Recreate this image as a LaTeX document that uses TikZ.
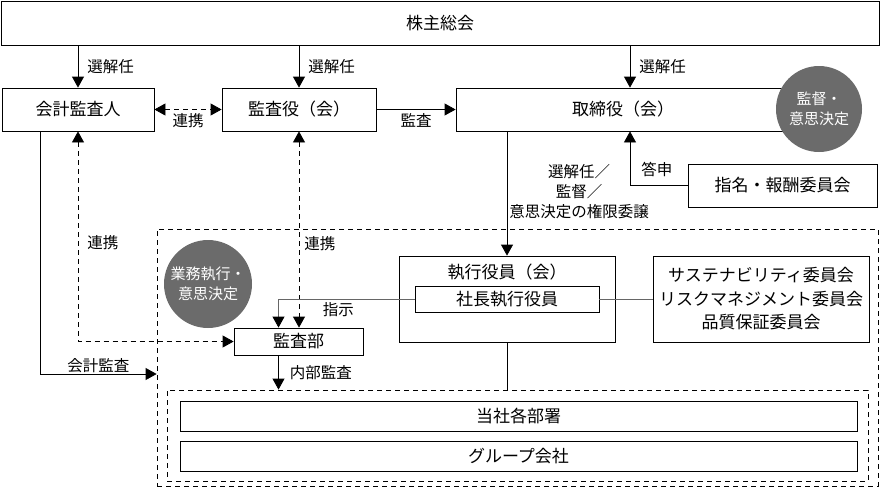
\documentclass[tikz,border=0pt]{standalone}
\usepackage{fontspec}
\setmainfont{Noto Sans CJK JP}
\usetikzlibrary{arrows.meta}

\begin{document}
\begin{tikzpicture}[x=1pt, y=-1pt, line width=0.8pt,
    box/.style={draw, rectangle, inner sep=0pt, font=\fontsize{17}{20}\selectfont},
    lbl/.style={inner sep=1pt, font=\fontsize{15.5}{20}\selectfont},
    badge/.style={circle, fill=black!58, text=white, inner sep=0pt, align=center, font=\fontsize{15}{20}\selectfont},
    region/.style={draw, rectangle, dash pattern=on 5pt off 4pt, inner sep=0pt},
    arr/.style={-{Triangle[length=11pt,width=12pt,color=black]}},
    darr/.style={{Triangle[length=11pt,width=12pt]}-{Triangle[length=11pt,width=12pt]}, dash pattern=on 5pt off 4pt},
    gline/.style={draw=black!60}]

    \useasboundingbox (0,0) rectangle (880,488);

    \node[box, minimum width=878pt, minimum height=44pt] (soukai) at (440,23) {株主総会};
    \node[box, minimum width=152pt, minimum height=43pt] (kaikei) at (78,109.5) {会計監査人};
    \node[box, minimum width=154pt, minimum height=43pt] (kansayaku) at (299,109.5) {監査役（会）};
    \node[box, minimum width=334pt, minimum height=43pt] (torishimari) at (623,109.5) {取締役（会）};
    \node[badge, minimum size=86pt] (kantoku) at (819,109) {監督・\\意思決定};
    \node[box, minimum width=189pt, minimum height=43pt] (shimei) at (782.5,185.5) {指名・報酬委員会};

    \node[region, minimum width=721pt, minimum height=257pt] (gyoumubu) at (517.5,357.5) {};
    \node[badge, minimum size=88pt] (gyoumu) at (208,284) {業務執行・\\意思決定};

    \node[box, minimum width=216pt, minimum height=86pt] (shikkou) at (507,299) {};
    \node[lbl, font=\fontsize{17}{20}\selectfont] (shikkoutitle) at (507,272) {執行役員（会）};
    \node[box, minimum width=184pt, minimum height=26pt] (shachou) at (507,299) {社長執行役員};
    \node[box, minimum width=216pt, minimum height=86pt, align=center, font=\fontsize{17}{23.5}\selectfont] (iinkai) at (761,299) {サステナビリティ委員会\\リスクマネジメント委員会\\品質保証委員会};
    \node[box, minimum width=129pt, minimum height=27pt] (kansabu) at (298.5,341.5) {監査部};

    \node[region, minimum width=701pt, minimum height=91pt] (busho) at (517.5,435.5) {};
    \node[box, minimum width=677pt, minimum height=30pt] (tousha) at (518.5,416) {当社各部署};
    \node[box, minimum width=677pt, minimum height=30pt] (group) at (518.5,456) {グループ会社};

    \coordinate (tsin) at ([xshift=7pt]torishimari.south);
    \coordinate (kbs) at ([xshift=-20pt]kansabu.south);
    \coordinate (kbn) at ([xshift=-20pt]kansabu.north);
    \coordinate (kaikeiin) at (gyoumubu.west |- 0,374);

    \draw [arr] (soukai.south -| kaikei) to node[lbl, right, xshift=8pt] {選解任} (kaikei);
    \draw [arr] (soukai.south -| kansayaku) to node[lbl, right, xshift=8pt] {選解任} (kansayaku);
    \draw [arr] (soukai.south -| tsin) to node[lbl, right, xshift=8pt] {選解任} (torishimari.north -| tsin);
    \draw [darr] (kaikei) to node[lbl, below, yshift=-3pt] {連携} (kansayaku);
    \draw [arr] (kansayaku) to node[lbl, below, yshift=-3pt] {監査} (torishimari);
    \draw [arr] (torishimari.south -| shikkou.north) to node[lbl, align=center, font=\fontsize{15.5}{20}\selectfont, xshift=72pt, yshift=2pt] {選解任／\\監督／\\意思決定の権限委譲} (shikkou.north);
    \draw [arr] (shimei.west) -| node[lbl, right, pos=0.65, xshift=10pt] {答申} (tsin);
    \draw [darr] (kaikei.south) |- node[lbl, right, pos=0.265, xshift=8pt] {連携} (kansabu.west);
    \draw [darr] (kansayaku.south) to node[lbl, right, pos=0.57, xshift=4pt] {連携} (kansabu.north -| kansayaku.south);
    \draw [arr, gline] (shachou.west) -| node[lbl, below, pos=0.28, yshift=-2pt, text=black] {指示} (kbn);
    \draw [gline] (shachou.east) to (iinkai.west);
    \draw (shikkou.south) to (shikkou.south |- busho.north);
    \draw [arr] (kbs) to node[lbl, right, xshift=10pt] {内部監査} (kbs |- busho.north);
    \draw [arr] ([xshift=-38pt]kaikei.south) |- node[lbl, above, pos=0.75] {会計監査} (kaikeiin);

\end{tikzpicture}
\end{document}
